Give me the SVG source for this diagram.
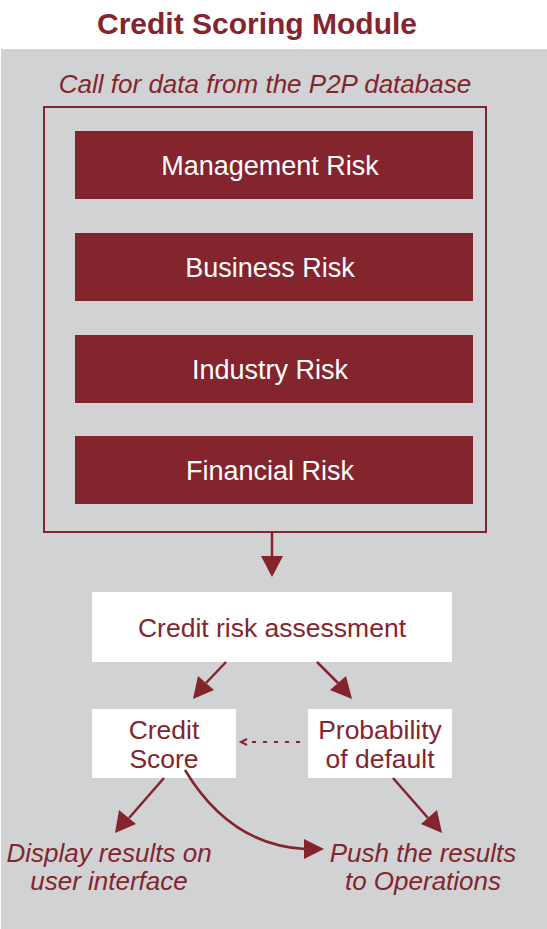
<svg xmlns="http://www.w3.org/2000/svg" width="547" height="929" viewBox="0 0 547 929">
<style>
.t{font-family:"Liberation Sans","DejaVu Sans",sans-serif;text-anchor:middle}
.w{fill:#ffffff;font-size:27px}
.r{fill:#84252e}
.it{font-style:italic;font-size:26px;fill:#84252e}
.box{fill:#84252e}
.wb{fill:#ffffff}
.ln{stroke:#84252e;stroke-width:2.5;fill:none}
</style>
<rect x="0" y="0" width="547" height="929" fill="#ffffff"/>
<rect x="1" y="49" width="546" height="880" fill="#d1d2d4"/>
<text class="t r" x="257" y="34" font-size="30" font-weight="bold">Credit Scoring Module</text>
<text class="t it" x="265" y="93" font-size="26.5">Call for data from the P2P database</text>
<g id="container"><rect x="44" y="107" width="442" height="425" fill="none" stroke="#84252e" stroke-width="2"/></g>
<g id="management"><rect class="box" x="75" y="131" width="398" height="68"/><text class="t w" x="270" y="175">Management Risk</text></g>
<g id="business"><rect class="box" x="75" y="233" width="398" height="68"/><text class="t w" x="270" y="277">Business Risk</text></g>
<g id="industry"><rect class="box" x="75" y="335" width="398" height="68"/><text class="t w" x="270" y="379">Industry Risk</text></g>
<g id="financial"><rect class="box" x="75" y="436" width="398" height="68"/><text class="t w" x="270" y="480">Financial Risk</text></g>
<g id="assessment"><rect class="wb" x="92" y="592" width="360" height="70"/><text class="t r" x="272" y="637" font-size="26.5">Credit risk assessment</text></g>
<g id="score"><rect class="wb" x="92" y="709" width="144" height="69"/><text class="t r" x="164" y="739" font-size="26.5">Credit</text><text class="t r" x="164" y="768" font-size="26.5">Score</text></g>
<g id="pd"><rect class="wb" x="308" y="709" width="144" height="69"/><text class="t r" x="380" y="739" font-size="26.5">Probability</text><text class="t r" x="380" y="768" font-size="26.5">of default</text></g>
<g id="display"><text class="t it" x="109" y="862">Display results on</text><text class="t it" x="109" y="890">user interface</text></g>
<g id="push"><text class="t it" x="423" y="862">Push the results</text><text class="t it" x="423" y="890">to Operations</text></g>
<g id="connectors">
<path class="ln" d="M272,532 L272,558"/><path d="M261,556 L283,556 L272,577 z" fill="#84252e"/>
<path class="ln" d="M226,662 L206,683"/><path d="M193,699 L198,676 L214,690 z" fill="#84252e"/>
<path class="ln" d="M317,662 L338,683"/><path d="M352,699 L330,690 L346,676 z" fill="#84252e"/>
<path class="ln" d="M164,778 L129,818"/><path d="M115,833 L119,810 L136,824 z" fill="#84252e"/>
<path class="ln" d="M393,778 L428,818"/><path d="M442,833 L421,824 L437,810 z" fill="#84252e"/>
<path class="ln" d="M185,770 Q230,845 305,849"/><path d="M324,849 L304,839 L304,859 z" fill="#84252e"/>
<path d="M300,742 L249,742" stroke="#84252e" stroke-width="2" stroke-dasharray="4,7" fill="none"/>
<path d="M247,739 L241,742 L247,745" stroke="#84252e" stroke-width="2" fill="none"/>
</g>
</svg>
